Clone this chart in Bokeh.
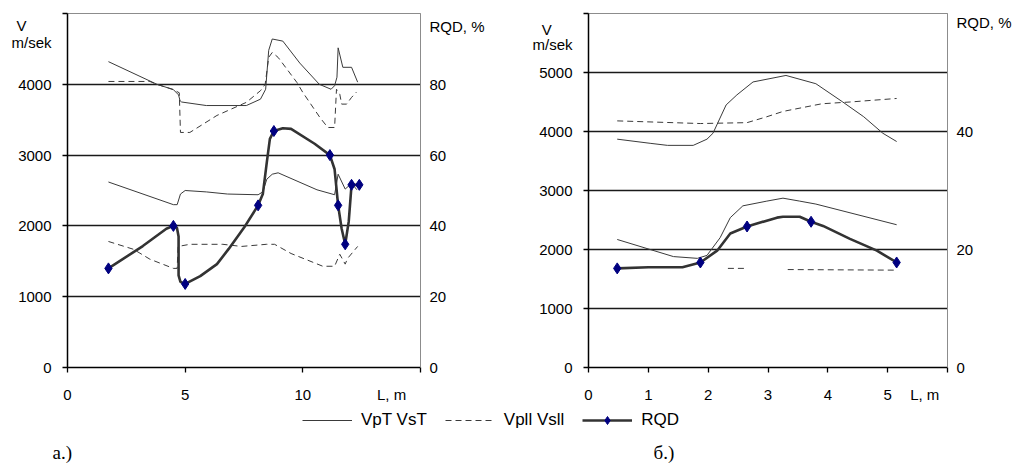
from bokeh.plotting import figure
from bokeh.models import Range1d, LinearAxis, FixedTicker, Label, Legend, LegendItem
from bokeh.layouts import column, row
from bokeh.embed import file_html
from bokeh.resources import INLINE

# ---------------- Panel a ----------------
a_vp_x = [1.74, 3.8, 4.5, 4.72, 4.78, 4.85, 5.9, 7.6, 8.2, 8.42, 8.55, 8.7, 9.15, 9.87, 10.7, 11.2, 11.35, 11.45, 11.5, 11.7, 12.07, 12.33]
a_vp_y = [4320, 4000, 3925, 3850, 3770, 3750, 3700, 3700, 3790, 3930, 4480, 4640, 4610, 4300, 4000, 3930, 3980, 4100, 4515, 4240, 4240, 4030]

a_vpl_x = [1.74, 3.5, 3.8, 4.5, 4.75, 4.8, 5.2, 6.35, 7.6, 8.2, 8.4, 8.55, 8.7, 8.95, 9.75, 10.0, 10.72, 11.06, 11.35, 11.43, 11.57, 11.65, 11.86, 12.07, 12.28]
a_vpl_y = [4040, 4040, 4000, 3925, 3880, 3320, 3320, 3560, 3745, 3910, 4000, 4380, 4450, 4380, 4025, 3885, 3534, 3390, 3390, 3930, 3860, 3720, 3720, 3815, 3890]

a_vs_x = [1.74, 4.5, 4.66, 4.8, 5.0, 5.9, 6.8, 8.1, 8.3, 8.47, 8.7, 8.95, 10.6, 11.35, 11.5, 11.8, 12.07, 12.3]
a_vs_y = [2620, 2300, 2300, 2450, 2500, 2480, 2450, 2440, 2480, 2660, 2730, 2750, 2510, 2440, 2730, 2520, 2600, 2510]

a_vsl_x = [1.74, 2.8, 3.5, 4.5, 4.66, 4.7, 5.2, 6.6, 7.4, 8.45, 8.8, 9.5, 10.85, 11.35, 11.57, 11.8, 11.9, 12.33]
a_vsl_y = [1780, 1670, 1530, 1400, 1400, 1710, 1740, 1740, 1710, 1740, 1740, 1610, 1430, 1430, 1600, 1460, 1540, 1710]

a_rqd_x = [1.74, 4.5, 5.0, 8.1, 8.77, 11.15, 11.5, 11.8, 12.07, 12.4]
a_rqd = [28, 40, 23.6, 45.8, 66.8, 60, 45.8, 34.8, 51.6, 51.6]
a_rqd_curve_x = [1.74, 3.2, 4.2, 4.5, 4.65, 4.72, 4.72, 4.8, 5.0, 5.64, 6.35, 6.85, 7.55, 8.1, 8.3, 8.47, 8.6, 8.77, 9.15, 9.5, 10.5, 11.15, 11.35, 11.5, 11.65, 11.8, 11.95, 12.07, 12.4]
a_rqd_curve = [28, 34.3, 39.2, 40, 39.5, 37, 26, 24.2, 23.6, 25.8, 29.2, 33.5, 40, 45.8, 49, 58, 64.6, 66.8, 67.6, 67.4, 63.2, 60, 56, 45.8, 39.2, 34.8, 41.2, 51.6, 51.6]

# ---------------- Panel b ----------------
b_vp_x = [0.48, 1.03, 1.32, 1.75, 1.98, 2.08, 2.3, 2.48, 2.75, 3.15, 3.3, 3.8, 4.25, 4.6, 4.92, 5.15]
b_vp_y = [3870, 3800, 3765, 3765, 3870, 3970, 4450, 4620, 4840, 4920, 4950, 4810, 4500, 4250, 3970, 3830]

b_vpl_x = [0.48, 1.87, 2.65, 2.98, 3.25, 3.9, 4.37, 5.15]
b_vpl_y = [4180, 4135, 4150, 4250, 4340, 4470, 4500, 4560]

b_vs_x = [0.48, 1.03, 1.42, 1.82, 1.98, 2.2, 2.37, 2.58, 2.98, 3.25, 3.53, 3.8, 5.15]
b_vs_y = [2170, 2000, 1880, 1850, 1900, 2200, 2540, 2740, 2820, 2870, 2820, 2770, 2420]

b_vsl_x = [2.33, 2.65, float("nan"), 3.33, 5.15]
b_vsl_y = [1680, 1680, float("nan"), 1660, 1650]

b_rqd_x = [0.48, 1.87, 2.65, 3.72, 5.15]
b_rqd = [16.8, 17.8, 23.9, 24.7, 17.8]
b_rqd_curve_x = [0.48, 1.0, 1.57, 1.87, 2.15, 2.37, 2.65, 3.15, 3.25, 3.53, 3.72, 3.92, 4.37, 4.82, 5.15]
b_rqd_curve = [16.8, 17.0, 17.0, 17.8, 19.8, 22.7, 23.9, 25.4, 25.55, 25.55, 24.7, 24.0, 21.8, 19.8, 17.8]

# ticks and texts
a_xticks = [0, 5, 10, 15]
a_xlabels = {0: "0", 5: "5", 10: "10", 13.77: "L, m"}
a_yticks = [0, 1000, 2000, 3000, 4000, 5000]
a_ylabels = {0: "0", 1000: "1000", 2000: "2000", 3000: "3000", 4000: "4000",
             4586: "m/sek", 4825: "V\u00a0\u00a0\u00a0\u00a0\u00a0\u00a0"}
a_rlabels = {0: "0", 20: "20", 40: "40", 60: "60", 80: "80", 96.3: "RQD, %"}

b_xticks = [0, 1, 2, 3, 4, 5, 6]
b_xlabels = {0: "0", 1: "1", 2: "2", 3: "3", 4: "4", 5: "5", 5.62: "L, m"}
b_yticks = [0, 1000, 2000, 3000, 4000, 5000, 6000]
b_ylabels = {0: "0", 1000: "1000", 2000: "2000", 3000: "3000", 4000: "4000", 5000: "5000",
             5479: "m/sek", 5731: "V\u00a0\u00a0\u00a0\u00a0\u00a0"}
b_rlabels = {0: "0", 20: "20", 40: "40", 58.5: "RQD, %"}

legend_labels = ["VpT VsT", "Vpll Vsll", "RQD"]

FONT = "Liberation Sans"
LINE = "#3a3a3a"
DASH = "6 4"


def label_axis(ax, labels, standoff):
    keys = list(labels.keys())
    ax.ticker = FixedTicker(ticks=keys)
    ax.major_label_overrides = dict(labels)
    ax.axis_line_color = None
    ax.major_tick_line_color = None
    ax.minor_tick_line_color = None
    ax.major_tick_out = 0
    ax.major_tick_in = 0
    ax.major_label_standoff = standoff
    ax.major_label_text_font = FONT
    ax.major_label_text_font_size = "15px"
    ax.major_label_text_color = "black"


def tick_axis(ax, ticks):
    ax.ticker = FixedTicker(ticks=ticks)
    ax.major_label_overrides = {t: "" for t in ticks}
    ax.major_label_standoff = 0
    ax.major_label_text_font_size = "1px"
    ax.axis_line_color = "black"
    ax.axis_line_width = 1.5
    ax.major_tick_line_color = "black"
    ax.major_tick_line_width = 1.3
    ax.major_tick_out = 5
    ax.major_tick_in = 0
    ax.minor_tick_line_color = None


def make_panel(width, bl, br, bt, bb, xmax, ymax, rmax, xt, xl, yt, yl, rt, rl,
               vp, vpl, vs, vsl, rq_curve, rq_pts):
    p = figure(width=width, height=405, x_range=Range1d(0, xmax), y_range=Range1d(0, ymax),
               toolbar_location=None, output_backend="svg",
               min_border_left=bl, min_border_right=br, min_border_top=bt, min_border_bottom=bb)
    p.extra_y_ranges = {"rqd": Range1d(0, rmax)}
    p.outline_line_color = "#8c8c8c"
    p.outline_line_width = 1
    p.background_fill_color = "white"
    p.border_fill_color = "white"
    p.xgrid.visible = False
    p.ygrid.ticker = FixedTicker(ticks=yt[1:-1])
    p.ygrid.grid_line_color = "#1a1a1a"
    p.ygrid.grid_line_width = 1.3

    tick_axis(p.xaxis[0], xt)
    tick_axis(p.yaxis[0], yt)
    xlab = LinearAxis()
    label_axis(xlab, xl, 13)
    p.add_layout(xlab, "below")
    ylab = LinearAxis()
    label_axis(ylab, yl, 11)
    p.add_layout(ylab, "left")

    rax = LinearAxis(y_range_name="rqd")
    label_axis(rax, rl, 9)
    rax.axis_line_color = "#8c8c8c"
    p.add_layout(rax, "right")

    p.line(vp[0], vp[1], line_color=LINE, line_width=1)
    p.line(vs[0], vs[1], line_color=LINE, line_width=1)
    p.line(vpl[0], vpl[1], line_color=LINE, line_width=1, line_dash=DASH)
    p.line(vsl[0], vsl[1], line_color=LINE, line_width=1, line_dash=DASH)
    p.line(rq_curve[0], rq_curve[1], line_color="#333333", line_width=2.6, y_range_name="rqd")
    p.scatter(rq_pts[0], rq_pts[1], marker="diamond", size=11, fill_color="#000080",
              line_color="#000080", y_range_name="rqd")
    return p


fa = make_panel(508, 67, 88, 12, 38, 15, 5000, 100, a_xticks, a_xlabels, a_yticks, a_ylabels,
                [0, 20, 40, 60, 80, 100], a_rlabels,
                (a_vp_x, a_vp_y), (a_vpl_x, a_vpl_y), (a_vs_x, a_vs_y), (a_vsl_x, a_vsl_y),
                (a_rqd_curve_x, a_rqd_curve), (a_rqd_x, a_rqd))

fb = make_panel(514, 80, 75, 13, 37, 6, 6000, 60, b_xticks, b_xlabels, b_yticks, b_ylabels,
                [0, 20, 40, 60], b_rlabels,
                (b_vp_x, b_vp_y), (b_vpl_x, b_vpl_y), (b_vs_x, b_vs_y), (b_vsl_x, b_vsl_y),
                (b_rqd_curve_x, b_rqd_curve), (b_rqd_x, b_rqd))

# ---------------- legend strip ----------------
fl = figure(width=1022, height=59, x_range=Range1d(0, 1022), y_range=Range1d(0, 59),
            toolbar_location=None, output_backend="svg", x_axis_type=None, y_axis_type=None,
            min_border=0)
fl.outline_line_color = None
fl.grid.visible = False
# legend-sample renderers (kept outside the visible range)
r1 = fl.line([-50, -40], [-50, -50], line_color=LINE, line_width=1)
r2 = fl.line([-50, -40], [-50, -50], line_color=LINE, line_width=1, line_dash=DASH)
r3 = fl.line([-50, -40], [-50, -50], line_color="#333333", line_width=2.6)
r3m = fl.scatter([-45], [-50], marker="diamond", size=9, fill_color="#000080", line_color="#000080")
leg = Legend(items=[LegendItem(label=legend_labels[0], renderers=[r1]),
                    LegendItem(label=legend_labels[1], renderers=[r2]),
                    LegendItem(label=legend_labels[2], renderers=[r3, r3m])],
             orientation="horizontal", location=(302, 34), padding=0, margin=0,
             spacing=18, glyph_width=50, glyph_height=20, label_standoff=9,
             label_text_font=FONT, label_text_font_size="17px", label_text_color="black",
             border_line_color=None, background_fill_alpha=0)
fl.add_layout(leg)
fl.add_layout(Label(x=52, y=12, text="а.)", text_font="Liberation Serif", text_font_size="19px",
                    text_baseline="alphabetic", text_color="black"))
fl.add_layout(Label(x=653, y=12, text="б.)", text_font="Liberation Serif", text_font_size="19px",
                    text_baseline="alphabetic", text_color="black"))

layout = column(row(fa, fb), fl)
open("out.html", "w").write(file_html(layout, INLINE))
